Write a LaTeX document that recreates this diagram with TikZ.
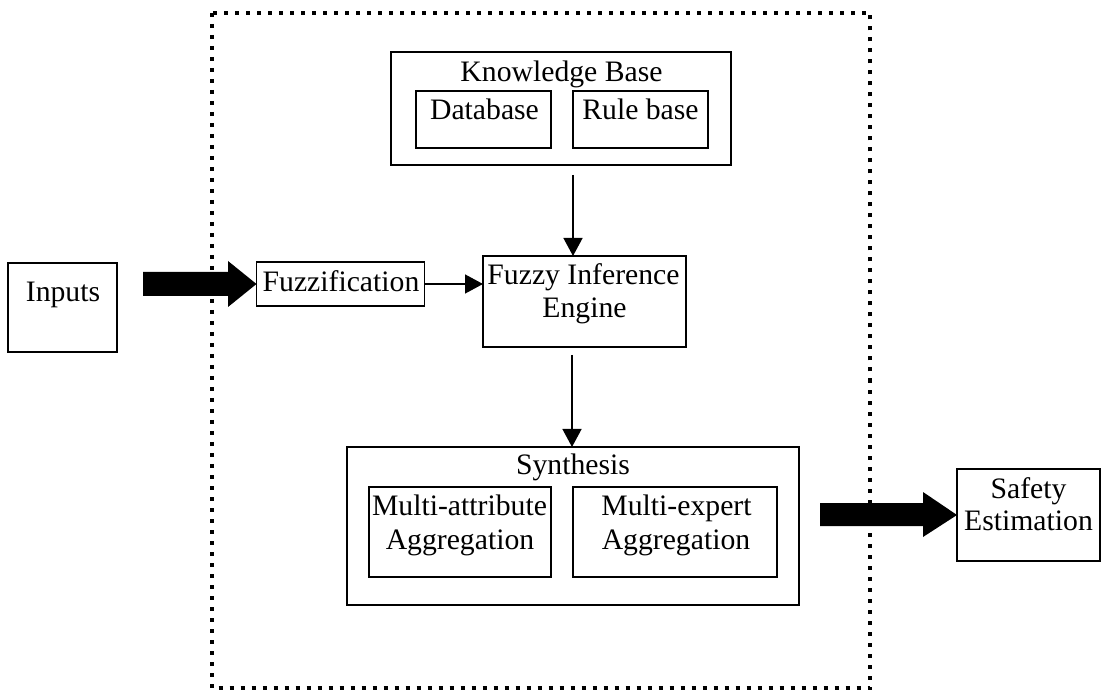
\documentclass[tikz,border=0pt]{standalone}
\usepackage{fontspec}
\setmainfont{Liberation Serif}
\usetikzlibrary{arrows.meta,calc}
\begin{document}
\begin{tikzpicture}[x=1pt,y=-1pt,
  box/.style={draw,line width=1.6pt,inner sep=0pt,outer sep=0pt},
  txt/.style={anchor=base,inner sep=0pt,font=\fontsize{29.7}{33}\selectfont},
  thinarrow/.style={line width=1.4pt,-{Triangle[width=19pt,length=18pt]}},
  blockarrow/.style={fill=black,draw=none},
  border/.style={line width=4pt,dash pattern=on 4pt off 7pt}]
\useasboundingbox (0,0) rectangle (1106,692);

% dotted system boundary
\draw[border] (211.5,13) rectangle (870,688);

% boxes
\node[box,minimum width=109pt,minimum height=89pt] (inputs) at (62.5,307.5) {};
\node[box,minimum width=168pt,minimum height=44pt] (fuzz) at (340.5,284) {};
\node[box,minimum width=203pt,minimum height=91pt] (fie) at (584.5,301.5) {};
\node[box,minimum width=340pt,minimum height=113pt] (kb) at (561,108.5) {};
\node[box,minimum width=135pt,minimum height=57pt] (db) at (483.5,119.5) {};
\node[box,minimum width=135pt,minimum height=57pt] (rb) at (640.5,119.5) {};
\node[box,minimum width=452pt,minimum height=158pt] (syn) at (573,526) {};
\node[box,minimum width=182pt,minimum height=90pt] (ma) at (460,532) {};
\node[box,minimum width=204pt,minimum height=90pt] (me) at (675,532) {};
\node[box,minimum width=143pt,minimum height=92pt] (safe) at (1028.5,515) {};

% texts
\node[txt] (tinputs) at (63,302) {Inputs};
\node[txt] (tfuzz) at (341,292) {Fuzzification};
\node[txt] (tfie1) at (583.5,285) {Fuzzy Inference};
\node[txt] (tfie2) at (584.5,318) {Engine};
\node[txt] (tkb) at (561.5,82) {Knowledge Base};
\node[txt] (tdb) at (484.5,120) {Database};
\node[txt] (trb) at (640.5,120) {Rule base};
\node[txt] (tsyn) at (573,475) {Synthesis};
\node[txt] (tma1) at (459.5,515) {Multi-attribute};
\node[txt] (tma2) at (460,549) {Aggregation};
\node[txt] (tme1) at (676.5,515) {Multi-expert};
\node[txt] (tme2) at (676,549) {Aggregation};
\node[txt] (tsafe1) at (1028.5,498) {Safety};
\node[txt] (tsafe2) at (1028.5,530) {Estimation};

% block arrows
\fill[blockarrow] (143,272) -- (228,272) -- (228,261) -- (fuzz.west) -- (228,307) -- (228,296) -- (143,296) -- cycle;
\fill[blockarrow] (820,503) -- (923,503) -- (923,492) -- (safe.west) -- (923,537) -- (923,526) -- (820,526) -- cycle;

% thin arrows
\draw[thinarrow] (fuzz.east) -- (fuzz.east -| fie.west);
\coordinate (kbout) at (573,175);
\draw[thinarrow] (kbout) -- (kbout |- fie.north);
\coordinate (fieout) at (572,355);
\draw[thinarrow] (fieout) -- (fieout |- syn.north);
\end{tikzpicture}
\end{document}
